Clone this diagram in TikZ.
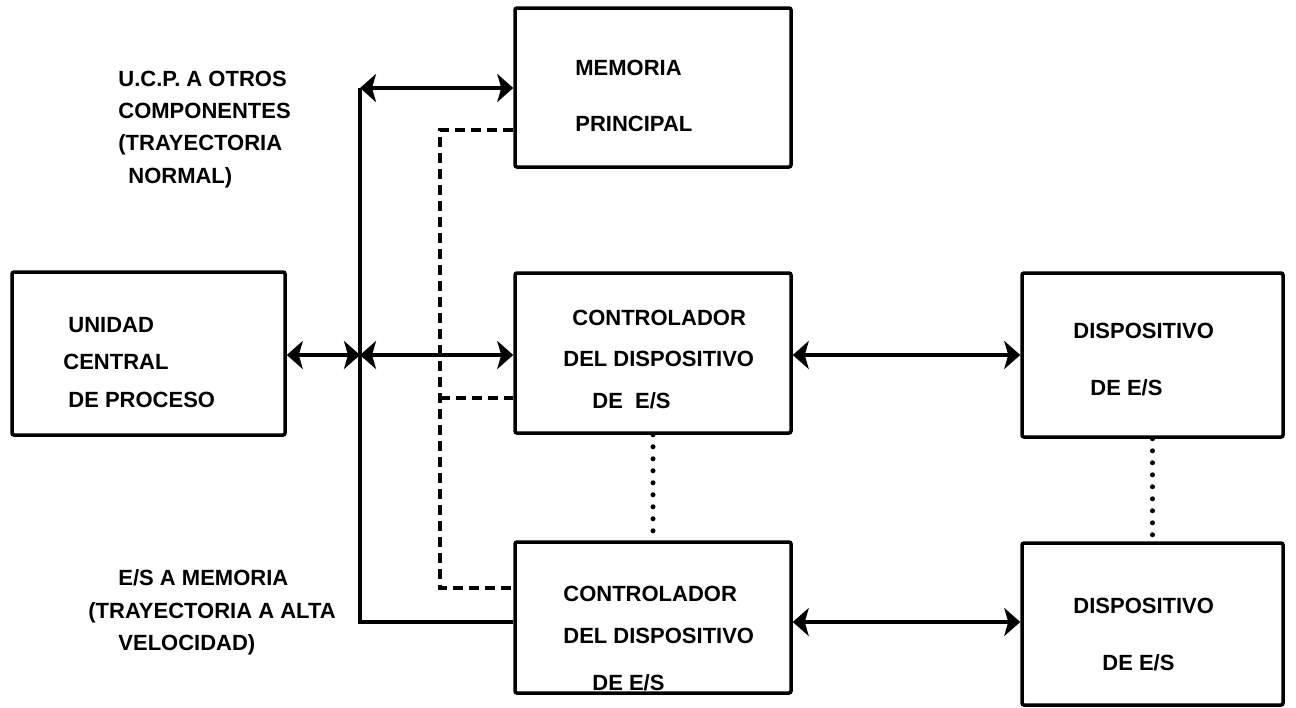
\documentclass[tikz,border=0pt]{standalone}
\usepackage{fontspec}
\setmainfont{Liberation Sans}
\usetikzlibrary{arrows.meta,positioning}

\begin{document}
\begin{tikzpicture}[x=0.5pt,y=-0.5pt,
    box/.style={draw,line width=1.75pt,rounded corners=1pt,inner sep=0pt},
    txt/.style={anchor=base west,inner sep=0pt,font=\bfseries\fontsize{11}{13}\selectfont},
    arr/.style={line width=1.6pt,{Stealth[length=8pt,width=14pt,inset=2pt]}-{Stealth[length=8pt,width=14pt,inset=2pt]}},
    bus/.style={line width=1.6pt},
    dsh/.style={line width=2pt,dash pattern=on 5pt off 3pt},
    dots/.style={line width=2.5pt,line cap=round,dash pattern=on 0pt off 6pt}
  ]
  \useasboundingbox (0,0) rectangle (1296,707);
  % boxes
  \node[box,minimum width=136.5pt,minimum height=81.5pt] (ucp) at (148.5,353.5) {};
  \node[box,minimum width=138pt,minimum height=79.5pt] (mem) at (653,87.5) {};
  \node[box,minimum width=138pt,minimum height=80pt] (ctlA) at (653,353) {};
  \node[box,minimum width=138pt,minimum height=75.5pt] (ctlB) at (653,617.5) {};
  \node[box,minimum width=130.5pt,minimum height=82pt] (dispA) at (1152.5,355) {};
  \node[box,minimum width=130.5pt,minimum height=81pt] (dispB) at (1152.5,624) {};
  % box texts
  \node[txt] (ucp1) at (68,332) {UNIDAD};
  \node[txt] (ucp2) at (63,369) {CENTRAL};
  \node[txt] (ucp3) at (68,407) {DE PROCESO};
  \node[txt] (mem1) at (575,75) {MEMORIA};
  \node[txt] (mem2) at (575,131) {PRINCIPAL};
  \node[txt] (ctlA1) at (572,325) {CONTROLADOR};
  \node[txt] (ctlA2) at (563,366) {DEL DISPOSITIVO};
  \node[txt] (ctlA3) at (592,408) {DE\ \ E/S};
  \node[txt] (ctlB1) at (563,601) {CONTROLADOR};
  \node[txt] (ctlB2) at (563,643) {DEL DISPOSITIVO};
  \node[txt] (ctlB3) at (592,690) {DE E/S};
  \node[txt] (dispA1) at (1073,338) {DISPOSITIVO};
  \node[txt] (dispA2) at (1090,395) {DE E/S};
  \node[txt] (dispB1) at (1073,613) {DISPOSITIVO};
  \node[txt] (dispB2) at (1102,670) {DE E/S};
  % path labels
  \node[txt] (norm1) at (118,86) {U.C.P. A OTROS};
  \node[txt] (norm2) at (118,118) {COMPONENTES};
  \node[txt] (norm3) at (118,150) {(TRAYECTORIA};
  \node[txt] (norm4) at (128,183) {NORMAL)};
  \node[txt] (alta1) at (118,585) {E/S A MEMORIA};
  \node[txt] (alta2) at (88,618) {(TRAYECTORIA A ALTA};
  \node[txt] (alta3) at (118,650) {VELOCIDAD)};
  % bus points
  \coordinate (bustop) at (360,88);
  \coordinate (busmid) at (360,355);
  \coordinate (busbot) at (360,622);
  \coordinate (dtop) at (440,130);
  \coordinate (dmid) at (440,398);
  \coordinate (dbot) at (440,588);
  % connectors
  \draw[bus] (bustop) -- (busbot) -- (busbot -| ctlB.west);
  \draw[arr] (bustop) -- (bustop -| mem.west);
  \draw[arr] (ucp.east |- busmid) -- (busmid);
  \draw[arr] (busmid) -- (busmid -| ctlA.west);
  \draw[arr] (ctlA.east |- busmid) -- (busmid -| dispA.west);
  \draw[arr] (ctlB.east |- busbot) -- (busbot -| dispB.west);
  \draw[dsh] (dtop -| mem.west) -- (dtop) -- (dbot) -- (dbot -| ctlB.west);
  \draw[dsh] (dmid) -- (dmid -| ctlA.west);
  \draw[dots] (ctlA.south) -- (ctlB.north);
  \draw[dots] (dispA.south) -- (dispB.north);
\end{tikzpicture}
\end{document}
